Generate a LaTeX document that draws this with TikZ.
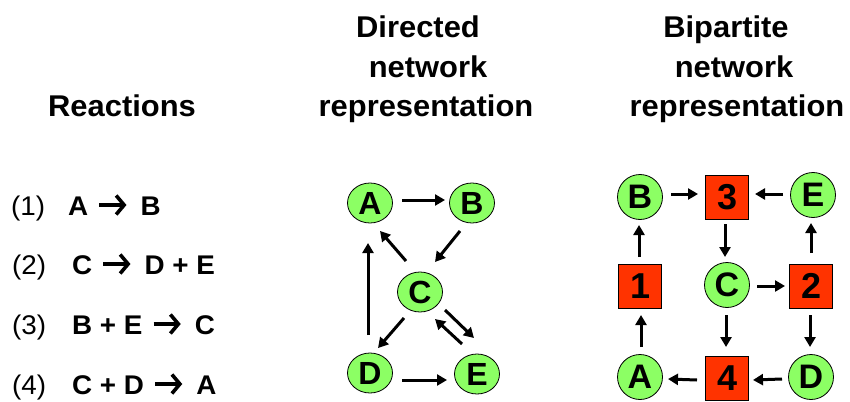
\documentclass[tikz,border=0pt]{standalone}
\usepackage{fontspec}
\setmainfont{Liberation Sans}
\newfontfamily\widefont[FakeStretch=1.03]{Liberation Sans}
\usetikzlibrary{shapes.geometric,arrows.meta,calc}
\definecolor{ngreen}{RGB}{140,255,100}
\definecolor{nred}{RGB}{255,51,0}
\begin{document}
\begin{tikzpicture}[x=1pt,y=-1pt,
  title/.style={anchor=base,inner sep=0,font=\widefont\bfseries\fontsize{30}{32}\selectfont},
  rxnum/.style={anchor=base west,inner sep=0,font=\widefont\fontsize{27}{29}\selectfont},
  rxtext/.style={anchor=base west,inner sep=0,font=\widefont\bfseries\fontsize{27}{29}\selectfont},
  chev/.style={line width=3.6pt,line join=miter,-{Straight Barb[length=8pt,width=19pt]}},
  dnode/.style={ellipse,draw=black,line width=0.8pt,fill=ngreen,minimum width=45pt,minimum height=40pt,inner sep=0,font=\bfseries\fontsize{32}{34}\selectfont},
  bnode/.style={circle,draw=black,line width=0.8pt,fill=ngreen,minimum size=45pt,inner sep=0,font=\bfseries\fontsize{34}{36}\selectfont},
  rbox/.style={rectangle,draw=black,line width=0.8pt,fill=nred,minimum width=43pt,minimum height=44pt,inner sep=0,font=\bfseries\fontsize{36}{38}\selectfont},
  arr/.style={line width=3pt,-{Triangle[length=10pt,width=11pt]}}
]
\useasboundingbox (0,0) rectangle (850,401);
\fill[white] (0,0) rectangle (850,401);

% titles
\node[title] (t1) at (122,117) {Reactions};
\node[title] (t2a) at (418,38) {Directed};
\node[title] (t2b) at (428,78) {network};
\node[title] (t2c) at (426,117) {representation};
\node[title] (t3a) at (726,38) {Bipartite};
\node[title] (t3b) at (734,78) {network};
\node[title] (t3c) at (737,117) {representation};

% reactions
\node[rxnum] (n1) at (11,215) {(1)};
\node[rxtext] (l1) at (68,215) {A};
\node[rxtext] (r1) at ($(l1.base east)+(52,0)$) {B};
\draw[chev] ($(l1.base east)+(11,-10)$) -- ($(r1.base west)+(-14,-10)$);

\node[rxnum] (n2) at (12,274) {(2)};
\node[rxtext] (l2) at (72,274) {C};
\node[rxtext] (r2) at ($(l2.base east)+(52,0)$) {D + E};
\draw[chev] ($(l2.base east)+(11,-10)$) -- ($(r2.base west)+(-14,-10)$);

\node[rxnum] (n3) at (12,334) {(3)};
\node[rxtext] (l3) at (72,334) {B + E};
\node[rxtext] (r3) at ($(l3.base east)+(52,0)$) {C};
\draw[chev] ($(l3.base east)+(11,-10)$) -- ($(r3.base west)+(-14,-10)$);

\node[rxnum] (n4) at (12,394) {(4)};
\node[rxtext] (l4) at (72,394) {C + D};
\node[rxtext] (r4) at ($(l4.base east)+(52,0)$) {A};
\draw[chev] ($(l4.base east)+(11,-10)$) -- ($(r4.base west)+(-14,-10)$);

% directed network
\node[dnode] (dA) at (370,203) {A};
\node[dnode] (dB) at (472,203) {B};
\node[dnode] (dC) at (420,292) {C};
\node[dnode] (dD) at (370,373) {D};
\node[dnode] (dE) at (477,374) {E};
\draw[arr] ($(dA)+(32,-3)$) -- ($(dB)+(-27,-3)$);
\draw[arr] ($(dB)+(-12,28)$) -- ($(dC)+(15,-30)$);
\draw[arr] ($(dC)+(-14,-31)$) -- ($(dA)+(10,28)$);
\draw[arr] ($(dD)+(-2,-38)$) -- ($(dA)+(-2,40)$);
\draw[arr] ($(dC)+(-16,26)$) -- ($(dD)+(8,-25)$);
\draw[arr] ($(dC)+(25,18)$) -- ($(dE)+(-3,-36)$);
\draw[arr] ($(dE)+(-15,-30)$) -- ($(dC)+(15,27)$);
\draw[arr] ($(dD)+(32,7)$) -- ($(dE)+(-30,6)$);

% bipartite network
\node[bnode] (bB) at (640,197) {B};
\node[rbox] (b3) at (727,197) {3};
\node[bnode] (bE) at (813,195) {E};
\node[rbox] (b1) at (640,286) {1};
\node[bnode] (bC) at (727,285) {C};
\node[rbox] (b2) at (811,286) {2};
\node[bnode] (bA) at (640,377) {A};
\node[rbox] (b4) at (727,378) {4};
\node[bnode] (bD) at (811,377) {D};
\draw[arr] ($(bB)+(31,-3)$) -- ($(b3)+(-29,-3)$);
\draw[arr] ($(bE)+(-30,-1)$) -- ($(b3)+(28,-3)$);
\draw[arr] ($(b3)+(-2,27)$) -- ($(bC)+(-2,-28)$);
\draw[arr] ($(b1)+(-1,-29)$) -- ($(bB)+(-1,28)$);
\draw[arr] ($(b2)+(0,-33)$) -- ($(bE)+(-2,28)$);
\draw[arr] ($(bC)+(30,1)$) -- ($(b2)+(-26,0)$);
\draw[arr] ($(bA)+(1,-30)$) -- ($(b1)+(1,29)$);
\draw[arr] ($(bC)+(-1,30)$) -- ($(b4)+(-1,-31)$);
\draw[arr] ($(b2)+(-1,29)$) -- ($(bD)+(-1,-30)$);
\draw[arr] ($(b4)+(-30,2)$) -- ($(bA)+(28,2)$);
\draw[arr] ($(bD)+(-29,2)$) -- ($(b4)+(26,2)$);
\end{tikzpicture}
\end{document}
